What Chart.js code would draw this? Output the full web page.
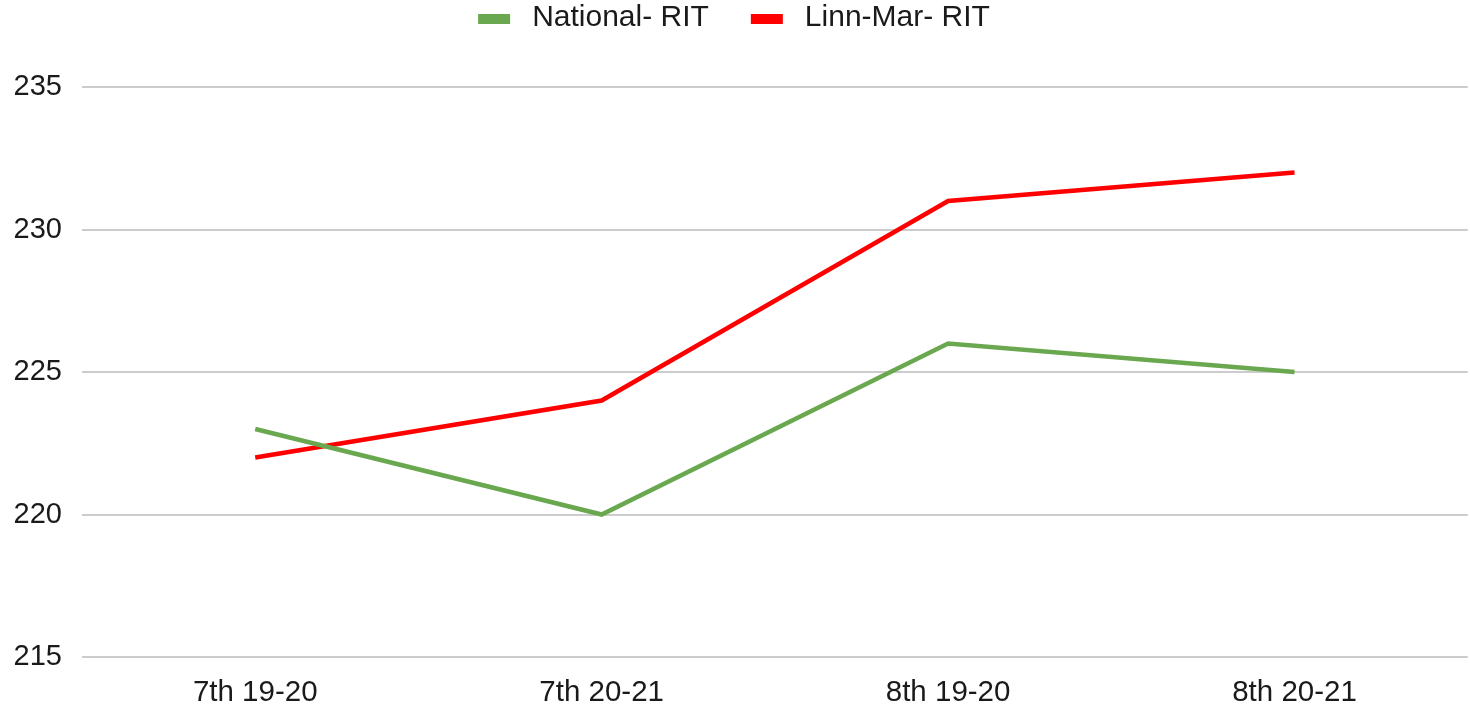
<!DOCTYPE html>
<html><head><meta charset="utf-8">
<script src="https://cdn.jsdelivr.net/npm/chart.js@4"></script>
<style>html,body{margin:0;padding:0;background:#fff}#wrap{width:1470px;height:705px}</style>
</head><body><div id="wrap"><canvas id="c" width="1470" height="705"></canvas></div>
<script>
const categories = ["7th 19-20", "7th 20-21", "8th 19-20", "8th 20-21"];
const nationalRIT = [223, 220, 226, 225];
const linnMarRIT = [222, 224, 231, 232];
const yTicks = [215, 220, 225, 230, 235];
const seriesColors = ['#6aa84f', '#ff0000'];

const FONT = "'Liberation Sans', Arial, sans-serif";
const LEGEND_SHIFT = -39;

const legendBoxes = {
  id: 'legendBoxes',
  afterDraw(chart) {
    const lg = chart.legend;
    if (!lg || !lg.legendHitBoxes) return;
    const ctx = chart.ctx;
    ctx.save();
    lg.legendHitBoxes.forEach((hb, i) => {
      ctx.fillStyle = seriesColors[i];
      const cy = hb.top + hb.height / 2 + LEGEND_SHIFT + 1;
      ctx.fillRect(hb.left, cy - 5, 32, 10);
    });
    ctx.restore();
  }
};

const chart = new Chart(document.getElementById('c'), {
  type: 'line',
  data: {
    labels: categories,
    datasets: [
      {label: 'National- RIT', data: nationalRIT, borderColor: seriesColors[0], backgroundColor: seriesColors[0], borderWidth: 4.5, pointRadius: 0, tension: 0},
      {label: 'Linn-Mar- RIT', data: linnMarRIT, borderColor: seriesColors[1], backgroundColor: seriesColors[1], borderWidth: 4.5, pointRadius: 0, tension: 0}
    ]
  },
  plugins: [legendBoxes],
  options: {
    responsive: false,
    animation: false,
    layout: {padding: {left: 0, right: 2, top: 0, bottom: 0}},
    plugins: {
      tooltip: {enabled: false},
      legend: {
        position: 'top',
        labels: {
          font: {family: FONT, size: 30},
          color: '#1a1a1a',
          boxWidth: 39,
          boxHeight: 10,
          padding: 42,
          generateLabels: (chart) => chart.data.datasets.map((d, i) => ({
            text: d.label, fillStyle: 'rgba(0,0,0,0)', strokeStyle: 'rgba(0,0,0,0)', lineWidth: 0, datasetIndex: i, fontColor: '#1a1a1a'
          }))
        }
      }
    },
    scales: {
      x: {
        offset: true,
        grid: {display: false, drawTicks: false},
        border: {display: false},
        ticks: {font: {family: FONT, size: 29.5}, color: '#1a1a1a', padding: 18},
        afterFit: (s) => { s.height = 48; }
      },
      y: {
        min: 215, max: 235,
        afterBuildTicks: (s) => { s.ticks = yTicks.map(v => ({value: v})); },
        grid: {color: '#cccccc', lineWidth: 2, drawTicks: false},
        border: {display: false},
        ticks: {font: {family: FONT, size: 29}, color: '#1a1a1a', padding: 20},
        afterFit: (s) => { s.width = 82; }
      }
    }
  }
});

const lg = chart.legend;
const origFit = lg.fit.bind(lg);
lg.fit = function () { origFit(); this.height = 87; };
const origDraw = lg.draw.bind(lg);
lg.draw = function () {
  const ctx = this.ctx;
  ctx.save();
  ctx.translate(0, LEGEND_SHIFT);
  origDraw();
  ctx.restore();
};
chart.update();
</script></body></html>
